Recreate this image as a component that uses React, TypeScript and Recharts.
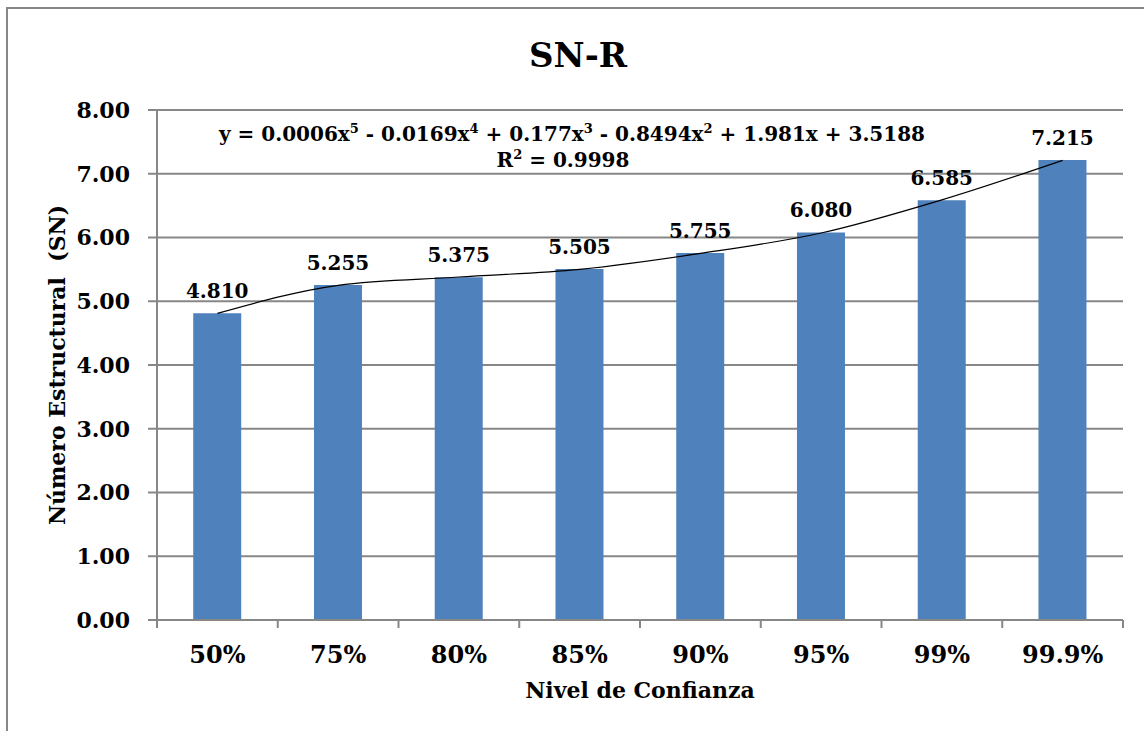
import React from "react";
import {
  ComposedChart,
  Bar,
  Line,
  XAxis,
  YAxis,
  CartesianGrid,
  LabelList,
} from "recharts";

const categories = ["50%", "75%", "80%", "85%", "90%", "95%", "99%", "99.9%"];
const snValues = [4.81, 5.255, 5.375, 5.505, 5.755, 6.08, 6.585, 7.215];
const trendValues = [4.81, 5.25, 5.38, 5.5, 5.75, 6.07, 6.59, 7.21];
const yTicks = [0, 1, 2, 3, 4, 5, 6, 7, 8];

const equationParts = ["y = 0.0006x", "5", " - 0.0169x", "4", " + 0.177x", "3", " - 0.8494x", "2", " + 1.981x + 3.5188"];
const r2Parts = ["R", "2", " = 0.9998"];

const data = categories.map((c, i) => ({
  nivel: c,
  sn: snValues[i],
  trend: trendValues[i],
}));

const FONT = "'DejaVu Serif', serif";
const GRAY = "#878787";

// etiqueta del eje X con marcas en los límites de categoría
const XTick = ({ x, y, payload, index, visibleTicksCount }: any) => {
  const half = payload?.offset ?? 60.4;
  const last = index === (visibleTicksCount ?? categories.length) - 1;
  return (
    <g>
      <line x1={x - half} x2={x - half} y1={y} y2={y + 8} stroke={GRAY} strokeWidth={2} />
      {last && <line x1={x + half} x2={x + half} y1={y} y2={y + 8} stroke={GRAY} strokeWidth={2} />}
      <text x={x} y={y + 35} dy="0.35em" textAnchor="middle" fontFamily={FONT} fontWeight="bold" fontSize={24} fill="#000">
        {payload.value}
      </text>
    </g>
  );
};

// texto con superíndices alternados
const SupText = ({ parts, x, y, size }: { parts: string[]; x: number; y: number; size: number }) => (
  <text x={x} y={y} textAnchor="middle" fontFamily={FONT} fontWeight="bold" fontSize={size} fill="#000" style={{ whiteSpace: "pre" }}>
    {parts.map((p, i) =>
      i % 2 === 1 ? (
        <tspan key={i} dy={-8} fontSize={size * 0.65}>
          {p}
        </tspan>
      ) : (
        <tspan key={i} dy={i === 0 ? 0 : 8}>
          {p}
        </tspan>
      )
    )}
  </text>
);

export default function App() {
  return (
    <div style={{ position: "absolute", left: 0, top: 0, width: 1144, height: 731, background: "#fff", overflow: "hidden" }}>
      <div style={{ position: "absolute", left: 6, top: 7, width: 1300, height: 900, border: `2px solid ${GRAY}` }} />
      <div style={{ position: "absolute", left: 0, top: 0 }}>
        <ComposedChart width={1144} height={731} data={data} margin={{ top: 110, right: 21, bottom: 51, left: 97 }} barCategoryGap="30%">
          <CartesianGrid horizontal vertical={false} stroke={GRAY} strokeWidth={2} />
          <XAxis
            dataKey="nivel"
            height={60}
            interval={0}
            axisLine={{ stroke: GRAY, strokeWidth: 2 }}
            tickLine={false}
            tickSize={0}
            tickMargin={0}
            tick={<XTick />}
          />
          <YAxis
            width={60}
            domain={[0, 8]}
            ticks={yTicks}
            interval={0}
            tickFormatter={(v: number) => v.toFixed(2)}
            axisLine={{ stroke: GRAY, strokeWidth: 2 }}
            tickLine={{ stroke: GRAY, strokeWidth: 2 }}
            tickSize={9}
            tickMargin={18}
            tick={{ fontFamily: FONT, fontWeight: "bold", fontSize: 22, fill: "#000" }}
          />
          <Bar dataKey="sn" fill="#4F81BD" isAnimationActive={false}>
            <LabelList
              dataKey="sn"
              position="top"
              offset={15}
              formatter={(v: any) => Number(v).toFixed(3)}
              style={{ fontFamily: FONT, fontWeight: "bold", fontSize: 20, fill: "#000" }}
            />
          </Bar>
          <Line dataKey="trend" type="monotone" stroke="#000" strokeWidth={1.2} dot={false} activeDot={false} isAnimationActive={false} />
        </ComposedChart>
      </div>
      <svg width={1144} height={731} style={{ position: "absolute", left: 0, top: 0, pointerEvents: "none" }}>
        <text x={578} y={67} textAnchor="middle" fontFamily={FONT} fontWeight="bold" fontSize={34} fill="#000">
          SN-R
        </text>
        <SupText parts={equationParts} x={572} y={141} size={20} />
        <SupText parts={r2Parts} x={563} y={167} size={20} />
        <text x={640} y={698} textAnchor="middle" fontFamily={FONT} fontWeight="bold" fontSize={22} fill="#000">
          Nivel de Confianza
        </text>
        <text transform="translate(65,365) rotate(-90)" textAnchor="middle" fontFamily={FONT} fontWeight="bold" fontSize={22} fill="#000" style={{ whiteSpace: "pre" }}>
          {"Número Estructural  (SN)"}
        </text>
      </svg>
    </div>
  );
}
